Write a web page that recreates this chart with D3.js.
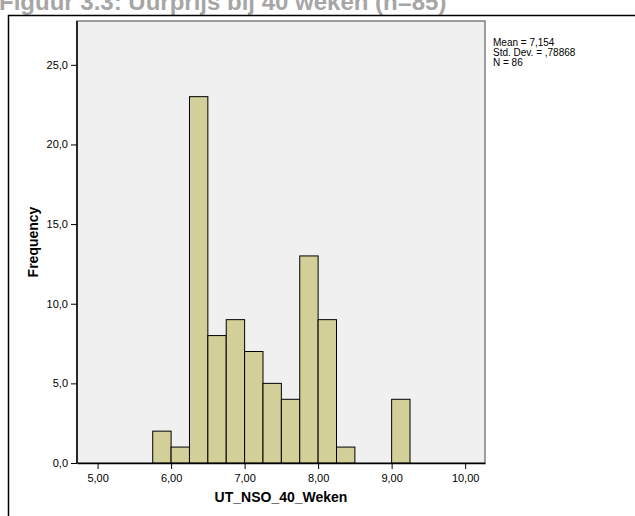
<!DOCTYPE html>
<html>
<head>
<meta charset="utf-8">
<script src="https://cdn.jsdelivr.net/npm/d3@7"></script>
<style>
  body { margin: 0; background: #fff; }
  text { font-family: "Liberation Sans", Arial, sans-serif; }
</style>
</head>
<body>
<div id="chart"></div>
<script>
// histogram bins (lower edge, upper edge) and counts
var binStarts = [5.75, 6.00, 6.25, 6.50, 6.75, 7.00, 7.25, 7.50, 7.75, 8.00, 8.25, 8.50, 8.75, 9.00];
var binWidth = 0.25;
var counts = [2, 1, 23, 8, 9, 7, 5, 4, 13, 9, 1, 0, 0, 4];
var xTicks = [5, 6, 7, 8, 9, 10];
var yTicks = [0, 5, 10, 15, 20, 25];
var statLines = ["Mean = 7,154", "Std. Dev. = ,78868", "N = 86"];
var title = "Figuur 3.3: Uurprijs bij 40 weken (n=85)";

var svgWidth = 635, svgHeight = 516;
var plot = { left: 77, top: 21, right: 485, bottom: 463 };

var svg = d3.select("#chart").append("svg")
  .attr("width", svgWidth)
  .attr("height", svgHeight);

// title, mostly cut off at the top
svg.append("text")
  .attr("x", -1)
  .attr("y", 10)
  .attr("fill", "#a6a6a6")
  .attr("font-size", "24px")
  .attr("font-weight", "bold")
  .text(title);

// outer frame (left and top only are visible)
svg.append("path")
  .attr("d", "M8.5,516 V15.5 H635")
  .attr("fill", "none")
  .attr("stroke", "#000")
  .attr("stroke-width", 1.5);

var x = d3.scaleLinear()
  .domain([4.72, 10.27])
  .range([plot.left, plot.right]);

var y = d3.scaleLinear()
  .domain([0, 27.75])
  .range([plot.bottom, plot.top]);

// plot background
svg.append("rect")
  .attr("x", plot.left)
  .attr("y", plot.top)
  .attr("width", plot.right - plot.left)
  .attr("height", plot.bottom - plot.top)
  .attr("fill", "#f0f0f0")
  .attr("stroke", "#444")
  .attr("stroke-width", 1);

// bars
var data = binStarts.map(function(s, i) { return { x0: s, x1: s + binWidth, n: counts[i] }; });
svg.append("g").selectAll("rect")
  .data(data.filter(function(d) { return d.n > 0; }))
  .enter()
  .append("rect")
  .attr("x", d => x(d.x0))
  .attr("y", d => y(d.n))
  .attr("width", d => x(d.x1) - x(d.x0))
  .attr("height", d => y(0) - y(d.n))
  .attr("fill", "#d3cf98")
  .attr("stroke", "#000")
  .attr("stroke-width", 1);

// axes
var fmtX = function(d) { return d3.format(".2f")(d).replace(".", ","); };
var fmtY = function(d) { return d3.format(".1f")(d).replace(".", ","); };

var xAxis = svg.append("g")
  .attr("transform", `translate(0, ${plot.bottom})`)
  .call(d3.axisBottom(x).tickValues(xTicks).tickFormat(fmtX).tickSize(6).tickSizeOuter(0));
var yAxis = svg.append("g")
  .attr("transform", `translate(${plot.left}, 0)`)
  .call(d3.axisLeft(y).tickValues(yTicks).tickFormat(fmtY).tickSize(6).tickSizeOuter(0));

[xAxis, yAxis].forEach(function(a) {
  a.select(".domain").attr("stroke", "#000").attr("stroke-width", 1.5);
  a.selectAll(".tick line").attr("stroke", "#000");
  a.selectAll(".tick text")
    .attr("fill", "#000")
    .attr("font-size", "11px")
    .attr("font-family", "'Liberation Sans', Arial, sans-serif");
});
xAxis.selectAll(".tick text").attr("dy", "0.9em");
yAxis.select(".domain").attr("d", `M0,${plot.bottom} V${plot.top}`);

// axis labels
svg.append("text")
  .attr("transform", `translate(38, ${(plot.top + plot.bottom) / 2}) rotate(-90)`)
  .attr("text-anchor", "middle")
  .attr("font-size", "14px")
  .attr("font-weight", "bold")
  .text("Frequency");

svg.append("text")
  .attr("x", (plot.left + plot.right) / 2)
  .attr("y", 502)
  .attr("text-anchor", "middle")
  .attr("font-size", "14px")
  .attr("font-weight", "bold")
  .text("UT_NSO_40_Weken");

// summary statistics
svg.append("g").selectAll("text")
  .data(statLines)
  .enter()
  .append("text")
  .attr("x", 493)
  .attr("y", (d, i) => 46 + i * 10)
  .attr("font-size", "10px")
  .text(d => d);
</script>
</body>
</html>
